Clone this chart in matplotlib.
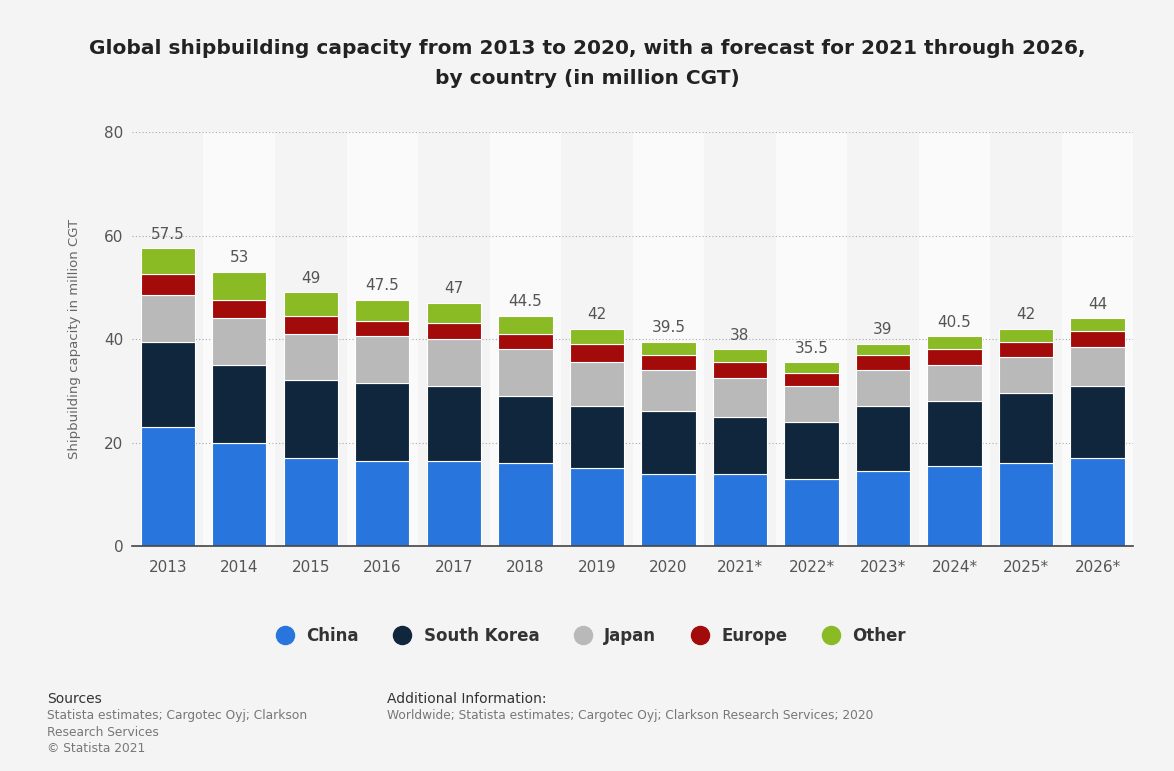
import matplotlib.pyplot as plt
import numpy as np

years = ['2013', '2014', '2015', '2016', '2017', '2018', '2019',
         '2020', '2021*', '2022*', '2023*', '2024*', '2025*', '2026*']
china = [23, 20, 17, 16.5, 16.5, 16, 15, 14, 14, 13, 14.5, 15.5, 16, 17]
south_korea = [16.5, 15, 15, 15, 14.5, 13, 12, 12, 11, 11, 12.5, 12.5, 13.5, 14]
japan = [9, 9, 9, 9, 9, 9, 8.5, 8, 7.5, 7, 7, 7, 7, 7.5]
europe = [4, 3.5, 3.5, 3, 3, 3, 3.5, 3, 3, 2.5, 3, 3, 3, 3]
other = [5, 5.5, 4.5, 4, 4, 3.5, 3, 2.5, 2.5, 2, 2, 2.5, 2.5, 2.5]
totals = [57.5, 53, 49, 47.5, 47, 44.5, 42, 39.5, 38, 35.5, 39, 40.5, 42, 44]

series = [
    ('China', china, '#2876dd'),
    ('South Korea', south_korea, '#10263d'),
    ('Japan', japan, '#b9b9b9'),
    ('Europe', europe, '#a30b0b'),
    ('Other', other, '#8aba24'),
]

bg = '#f4f4f4'
fig = plt.figure(figsize=(11.74, 7.71), dpi=100, facecolor=bg)
ax = fig.add_axes([0.1124, 0.2918, 0.853, 0.537], facecolor=bg)

x = np.arange(len(years))

# alternating column bands
for i in x:
    if i % 2 == 1:
        ax.axvspan(i - 0.5, i + 0.5, color='#fafafa', zorder=0, lw=0)

bottom = np.zeros(len(years))
for name, vals, color in series:
    vals = np.array(vals, dtype=float)
    ax.bar(x, vals, 0.76, bottom=bottom, color=color, edgecolor='white',
           linewidth=0.8, label=name, zorder=3)
    bottom += vals

for xi, t in zip(x, totals):
    ax.text(xi, t + 1.3, f'{t:g}', ha='center', va='bottom',
            fontsize=11, color='#555555', zorder=4)

ax.set_xlim(-0.5, len(years) - 0.5)
ax.set_ylim(0, 80)
ax.set_yticks([0, 20, 40, 60, 80])
ax.yaxis.grid(True, linestyle=(0, (1, 2)), color='#aaaaaa', linewidth=0.8, zorder=1)
ax.set_xticks(x)
ax.set_xticklabels(years)
ax.tick_params(axis='both', length=0, labelsize=11, labelcolor='#555555')
ax.tick_params(axis='x', pad=10)
ax.tick_params(axis='y', pad=6)
for side in ['top', 'right', 'left']:
    ax.spines[side].set_visible(False)
ax.spines['bottom'].set_color('#444444')
ax.spines['bottom'].set_linewidth(1.2)
ax.spines['bottom'].set_zorder(5)

ax.set_ylabel('Shipbuilding capacity in million CGT', fontsize=9.5,
              color='#666666', labelpad=17)

fig.text(0.5, 0.918, 'Global shipbuilding capacity from 2013 to 2020, with a forecast for 2021 through 2026,\nby country (in million CGT)',
         ha='center', va='center', fontsize=14.5, fontweight='bold',
         color='#222222', linespacing=1.75)

handles = [plt.Line2D([], [], marker='o', linestyle='', markersize=13,
                      markerfacecolor=c, markeredgecolor=c) for _, _, c in series]
fig.legend(handles, [n for n, _, _ in series], loc='center',
           bbox_to_anchor=(0.5, 0.175), ncol=5, frameon=False,
           prop={'size': 12, 'weight': 'bold'}, labelcolor='#333333',
           handletextpad=0.3, columnspacing=1.6)

fig.text(0.04, 0.094, 'Sources', fontsize=10, color='#333333', va='center')
fig.text(0.04, 0.080, 'Statista estimates; Cargotec Oyj; Clarkson\nResearch Services\n© Statista 2021',
         fontsize=8.8, color='#777777', va='top', linespacing=1.35)
fig.text(0.33, 0.094, 'Additional Information:', fontsize=10, color='#333333', va='center')
fig.text(0.33, 0.080, 'Worldwide; Statista estimates; Cargotec Oyj; Clarkson Research Services; 2020',
         fontsize=8.8, color='#777777', va='top')

fig.savefig('out.png', dpi=100, facecolor=bg)
